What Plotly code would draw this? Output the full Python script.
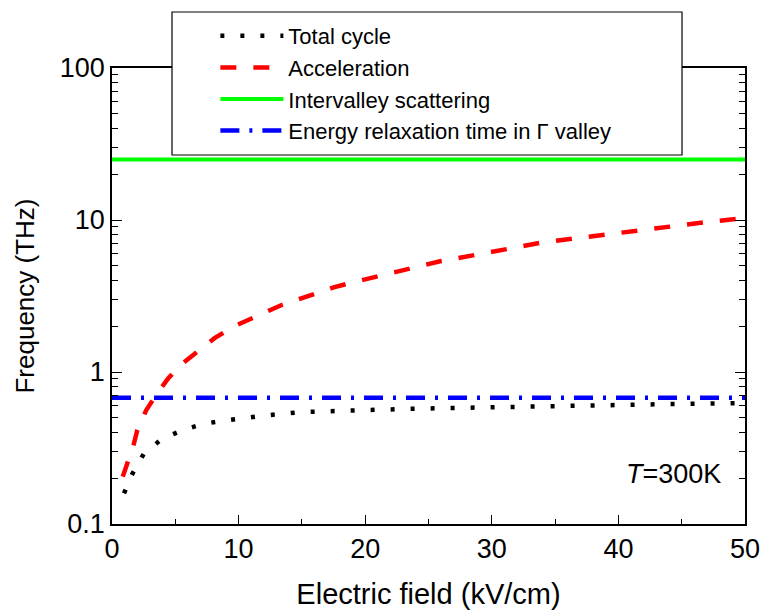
import plotly.graph_objects as go

# ---- data ----
field_total = [0.95, 1.6, 2.5, 4.0, 5.6, 7.2, 8.8, 10.4, 12.0, 13.5, 15.1, 16.7, 18.3,
               21.5, 24.6, 27.8, 31.0, 35.8, 40.6, 45.4, 50.0]
total_cycle = [0.159, 0.213, 0.289, 0.366, 0.415, 0.455, 0.479, 0.501, 0.516, 0.532, 0.546,
               0.550, 0.557, 0.566, 0.575, 0.582, 0.593, 0.604, 0.610, 0.618, 0.625]

field_acc = [0.85, 1.7, 2.0, 2.7, 3.4, 4.45, 5.4, 7.0, 8.1, 9.6, 10.8, 12.2, 13.4, 14.9,
             16.0, 17.5, 18.8, 20.6, 23.4, 26.0, 28.7, 31.3, 33.9, 36.6, 39.2, 41.8, 44.5,
             47.1, 50.0]
acceleration = [0.205, 0.33, 0.415, 0.56, 0.69, 0.91, 1.11, 1.43, 1.67, 1.99, 2.22, 2.49,
                2.76, 3.05, 3.3, 3.6, 3.85, 4.2, 4.81, 5.37, 5.89, 6.44, 7.09, 7.58, 8.06,
                8.64, 9.18, 9.71, 10.3]

field_const = [0.0, 50.0]
intervalley = [25.0, 25.0]
relaxation = [0.676, 0.676]

x_ticks = [0, 10, 20, 30, 40, 50]
y_ticks = [0.1, 1, 10, 100]
y_tick_labels = ["0.1", "1", "10", "100"]
y_minor = [m * 10 ** e for e in (-1, 0, 1) for m in range(2, 10)]

FONT = "Liberation Sans, Arial, sans-serif"

fig = go.Figure()
fig.add_trace(go.Scatter(x=field_total, y=total_cycle, mode="lines", name="Total cycle",
                         line=dict(color="black", width=4.5, dash="4px,16px")))
fig.add_trace(go.Scatter(x=field_acc, y=acceleration, mode="lines", name="Acceleration",
                         line=dict(color="#ff0000", width=4.5, dash="16px,17px")))
fig.add_trace(go.Scatter(x=field_const, y=intervalley, mode="lines",
                         name="Intervalley scattering",
                         line=dict(color="#00ff00", width=4)))
fig.add_trace(go.Scatter(x=field_const, y=relaxation, mode="lines",
                         name="Energy relaxation time in Γ valley",
                         line=dict(color="#0000ff", width=4.5, dash="19px,10px,3px,10px")))

# legend frame (white box covering the top of the axes)
fig.add_shape(type="rect", xref="paper", yref="paper",
              x0=0.0948, x1=0.9005, y0=0.8092, y1=1.1228,
              fillcolor="white", line=dict(color="black", width=1.2), layer="above")

fig.add_annotation(x=0.965, y=0.11, xref="paper", yref="paper",
                   text="<i>T</i>=300K", showarrow=False, xanchor="right", yanchor="middle",
                   font=dict(family=FONT, size=27, color="black"))

fig.update_layout(
    width=761, height=610,
    margin=dict(l=112, r=16, t=68, b=86, autoexpand=False),
    paper_bgcolor="white", plot_bgcolor="white",
    font=dict(family=FONT, color="black"),
    showlegend=True,
    legend=dict(x=0.1633, y=1.1162, xanchor="left", yanchor="top",
                bgcolor="rgba(0,0,0,0)", borderwidth=0,
                font=dict(family=FONT, size=22, color="black"),
                itemwidth=63, tracegroupgap=0),
    xaxis=dict(range=[0, 50], tickvals=x_ticks, ticks="inside", ticklen=9, tickwidth=1.2,
               tickcolor="black", showline=True, linecolor="black", linewidth=1.5,
               mirror="ticks", showgrid=False, zeroline=False, automargin=False,
               minor=dict(dtick=5, ticks="inside", ticklen=5, tickwidth=1.2,
                          tickcolor="black", showgrid=False),
               tickfont=dict(family=FONT, size=27),
               title=dict(text="Electric field (kV/cm)", font=dict(family=FONT, size=29),
                          standoff=23)),
    yaxis=dict(type="log", range=[-1, 2], tickvals=y_ticks, ticktext=y_tick_labels,
               ticks="inside", ticklen=10, tickwidth=1.2, tickcolor="black",
               showline=True, linecolor="black", linewidth=1.5, mirror="ticks",
               showgrid=False, zeroline=False, automargin=False,
               minor=dict(tickvals=y_minor, ticks="inside", ticklen=6, tickwidth=1.2,
                          tickcolor="black", showgrid=False),
               tickfont=dict(family=FONT, size=27),
               title=dict(text="Frequency (THz)", font=dict(family=FONT, size=26),
                          standoff=18)),
)

fig.write_html("out.html", config={"displayModeBar": False},
               post_script="document.body.style.margin='0';document.body.style.padding='0';")
